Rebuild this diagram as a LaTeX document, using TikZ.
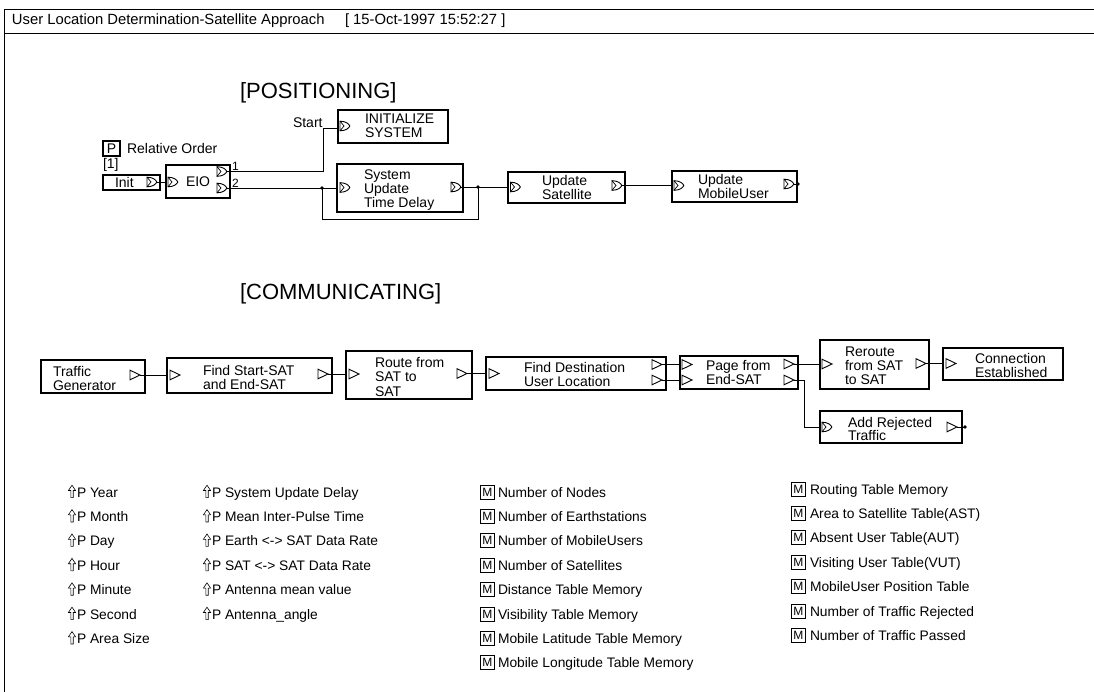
\documentclass[tikz,border=0pt]{standalone}
\usepackage{fontspec}
\setmainfont{Liberation Sans}
\newcommand\myfs{\fontsize{14}{14}\selectfont}
\newcommand\mylist{\fontsize{13.8}{14}\selectfont}
\newcommand\mytitle{\fontsize{14.8}{15}\selectfont}
\newcommand\myhead{\fontsize{22}{22}\selectfont}
\newcommand\mysmall{\fontsize{12}{12}\selectfont}
\begin{document}
\begin{tikzpicture}[x=1pt,y=-1pt,
  box/.style={draw, line width=1.3pt, anchor=north west, inner sep=0pt, outer sep=0pt},
  wire/.style={line width=0.9pt},
  lbl/.style={anchor=base west, inner sep=0pt, outer sep=0pt, font=\myfs},
  llbl/.style={anchor=base west, inner sep=0pt, outer sep=0pt, font=\mylist},
  mbox/.style={draw, line width=0.9pt, anchor=west, inner sep=0pt, minimum width=14pt, minimum height=14pt, font=\mysmall},
  dport/.pic={\draw[line width=0.9pt] (0,-4.8) -- (0,4.8) .. controls (6,4.8) and (9,2) .. (9.8,0) .. controls (9,-2) and (6,-4.8) .. (0,-4.8) -- cycle;
              \draw[line width=0.7pt] (0,-4.8) -- (4,0) -- (0,4.8);},
  tport/.pic={\draw[line width=0.9pt] (0,-4.8) -- (10,0) -- (0,4.8) -- cycle;},
  parm/.pic={\draw[line width=0.6pt] (-1.2,0.6) -- (-1.2,-6.5) -- (-3.6,-6.5) -- (0,-11.8) -- (3.6,-6.5) -- (1.2,-6.5) -- (1.2,0.6) -- cycle;},
]
\useasboundingbox (0,0) rectangle (1094,692);
% frame
\draw[line width=0.9pt] (1094,9) -- (4,9) -- (4,692);
\draw[line width=0.9pt] (4,33) -- (1094,33);
\node[lbl, font=\mytitle] (title) at (12,25) {User Location Determination-Satellite Approach};
\node[lbl, font=\mytitle] (date) at (345,25) {[ 15-Oct-1997 15:52:27 ]};

% ---------------- POSITIONING
\node[lbl, font=\myhead] (poshead) at (240,99) {[POSITIONING]};

\node[box, minimum width=17pt, minimum height=15pt, font=\myfs] (pbox) at (103,141) {P};
\node[lbl] (relord) at (127,154) {Relative Order};
\node[lbl] (one) at (103,169) {[1]};

\node[box, minimum width=57pt, minimum height=15pt] (init) at (103,175) {};
\node[lbl] (initt) at (115,187.5) {Init};
\pic at (147,182) {dport};
\coordinate (init-o) at (156.5,182);

\node[box, minimum width=64pt, minimum height=33pt] (eio) at (166,165) {};
\pic at (168,182) {dport};
\node[lbl] (eiot) at (186,187) {EIO};
\pic at (217,171.5) {dport};
\pic at (217,188) {dport};
\coordinate (eio-o1) at (226.5,171.5);
\coordinate (eio-o2) at (226.5,188);
\node[lbl, font=\mysmall] (n1) at (232,171) {1};
\node[lbl, font=\mysmall] (n2) at (232,187.5) {2};

\node[lbl] (start) at (293,128) {Start};
\node[box, minimum width=110pt, minimum height=33pt] (isys) at (338,110) {};
\pic at (340,126) {dport};
\node[lbl] (isys1) at (365,124) {INITIALIZE};
\node[lbl] (isys2) at (365,138) {SYSTEM};

\node[box, minimum width=126pt, minimum height=48pt] (sutd) at (337,164) {};
\pic at (340,187.5) {dport};
\node[lbl] (sutd1) at (364,180) {System};
\node[lbl] (sutd2) at (364,194) {Update};
\node[lbl] (sutd3) at (364,208) {Time Delay};
\pic at (451,187) {dport};
\coordinate (sutd-o) at (460.5,187);

\node[box, minimum width=117pt, minimum height=31pt] (usat) at (508,172) {};
\pic at (510.5,187) {dport};
\node[lbl] (usat1) at (542,186) {Update};
\node[lbl] (usat2) at (542,200) {Satellite};
\pic at (612,185.5) {dport};
\coordinate (usat-o) at (621.5,185.5);

\node[box, minimum width=125pt, minimum height=31pt] (umu) at (672,171) {};
\pic at (674,185.5) {dport};
\node[lbl] (umu1) at (698,185) {Update};
\node[lbl] (umu2) at (698,199) {MobileUser};
\pic at (784,184) {dport};
\coordinate (umu-o) at (793.5,184);
\coordinate (umu-end) at (798,184);

% wires positioning
\draw[wire] (init-o) -- (init-o -| eio.west);
\coordinate (stc) at (323,128);
\draw[wire] (eio-o1) -| (stc) -- (stc -| isys.west);
\coordinate (j1) at (322,188);
\draw[wire] (eio-o2) -- (eio-o2 -| sutd.west);
\coordinate (j2) at (478,187);
\coordinate (loopR) at (478,219);
\draw[wire] (j1) |- (loopR) -- (j2);
\draw[wire] (sutd-o) -- (sutd-o -| usat.west);
\draw[wire] (usat-o) -- (usat-o -| umu.west);
\draw[wire] (umu-o) -- (umu-end);
\fill (j1) circle (1.8);
\fill (j2) circle (1.8);
\fill (umu-end) circle (1.8);

% ---------------- COMMUNICATING
\node[lbl, font=\myhead] (comhead) at (240,300) {[COMMUNICATING]};

\node[box, minimum width=104pt, minimum height=33pt] (tg) at (41,360) {};
\node[lbl] (tg1) at (53,376) {Traffic};
\node[lbl] (tg2) at (53,390) {Generator};
\pic at (130,375) {tport};
\coordinate (tg-o) at (140,375);

\node[box, minimum width=165pt, minimum height=35pt] (fss) at (167,358) {};
\pic at (170,375) {tport};
\node[lbl] (fss1) at (203,375) {Find Start-SAT};
\node[lbl] (fss2) at (203,389) {and End-SAT};
\pic at (318,374) {tport};
\coordinate (fss-o) at (328,374);

\node[box, minimum width=126pt, minimum height=48pt] (rt) at (346,351) {};
\pic at (349,374) {tport};
\node[lbl] (rt1) at (375,367) {Route from};
\node[lbl] (rt2) at (375,381.5) {SAT to};
\node[lbl] (rt3) at (375,396) {SAT};
\pic at (457,373.5) {tport};
\coordinate (rt-o) at (467,373.5);

\node[box, minimum width=180pt, minimum height=33pt] (fd) at (486,357) {};
\pic at (489,373.5) {tport};
\node[lbl] (fd1) at (524,372) {Find Destination};
\node[lbl] (fd2) at (524,386.5) {User Location};
\pic at (652,364.5) {tport};
\pic at (652,380) {tport};
\coordinate (fd-o1) at (662,364.5);
\coordinate (fd-o2) at (662,380);

\node[box, minimum width=118pt, minimum height=33pt] (pg) at (680,356) {};
\pic at (682,364.5) {tport};
\pic at (682,380) {tport};
\node[lbl] (pg1) at (706,370.5) {Page from};
\node[lbl] (pg2) at (706,384.5) {End-SAT};
\pic at (784,364) {tport};
\pic at (784,380) {tport};
\coordinate (pg-o1) at (794,364);
\coordinate (pg-o2) at (794,380);

\node[box, minimum width=109pt, minimum height=49pt] (rr) at (820,340) {};
\pic at (822,364) {tport};
\node[lbl] (rr1) at (845,356.5) {Reroute};
\node[lbl] (rr2) at (845,370.5) {from SAT};
\node[lbl] (rr3) at (845,384.5) {to SAT};
\pic at (916,363.5) {tport};
\coordinate (rr-o) at (926,363.5);

\node[box, minimum width=120pt, minimum height=32pt] (ce) at (943,348) {};
\pic at (946,363.5) {tport};
\node[lbl] (ce1) at (975,363) {Connection};
\node[lbl] (ce2) at (975,377) {Established};

\node[box, minimum width=142pt, minimum height=32pt] (ar) at (820,411) {};
\pic at (822,427) {dport};
\node[lbl] (ar1) at (848,427) {Add Rejected};
\node[lbl] (ar2) at (848,440.5) {Traffic};
\pic at (947,427) {tport};
\coordinate (ar-o) at (957,427);
\coordinate (ar-end) at (965,427);

% wires communicating
\draw[wire] (tg-o) -- (tg-o -| fss.west);
\draw[wire] (fss-o) -- (fss-o -| rt.west);
\draw[wire] (rt-o) -- (rt-o -| fd.west);
\draw[wire] (fd-o1) -- (fd-o1 -| pg.west);
\draw[wire] (fd-o2) -- (fd-o2 -| pg.west);
\draw[wire] (pg-o1) -- (pg-o1 -| rr.west);
\coordinate (pgb) at (804,427);
\draw[wire] (pg-o2) -| (pgb) -- (pgb -| ar.west);
\draw[wire] (rr-o) -- (rr-o -| ce.west);
\draw[wire] (ar-o) -- (ar-end);
\fill (ar-end) circle (1.8);

% ---------------- parameter lists
\foreach \t [count=\i] in {Year,Month,Day,Hour,Minute,Second,Area Size} {
  \pic at (72,{497+24.4*(\i-1)}) {parm};
  \node[llbl] (pa\i) at (77,{497+24.4*(\i-1)}) {P \t};
}
\foreach \t [count=\i] in {System Update Delay,Mean Inter-Pulse Time,Earth <-> SAT Data Rate,SAT <-> SAT Data Rate,Antenna mean value,Antenna\_angle} {
  \pic at (207,{497+24.4*(\i-1)}) {parm};
  \node[llbl] (pb\i) at (212,{497+24.4*(\i-1)}) {P \t};
}
\foreach \t [count=\i] in {Number of Nodes,Number of Earthstations,Number of MobileUsers,Number of Satellites,Distance Table Memory,Visibility Table Memory,Mobile Latitude Table Memory,Mobile Longitude Table Memory} {
  \node[mbox] (mc\i) at (480,{492+24.4*(\i-1)}) {M};
  \node[llbl] (tc\i) at (498,{497+24.4*(\i-1)}) {\t};
}
\foreach \t [count=\i] in {Routing Table Memory,Area to Satellite Table(AST),Absent User Table(AUT),Visiting User Table(VUT),MobileUser Position Table,Number of Traffic Rejected,Number of Traffic Passed} {
  \node[mbox] (md\i) at (791,{489+24.4*(\i-1)}) {M};
  \node[llbl] (td\i) at (810,{494+24.4*(\i-1)}) {\t};
}
\end{tikzpicture}
\end{document}
